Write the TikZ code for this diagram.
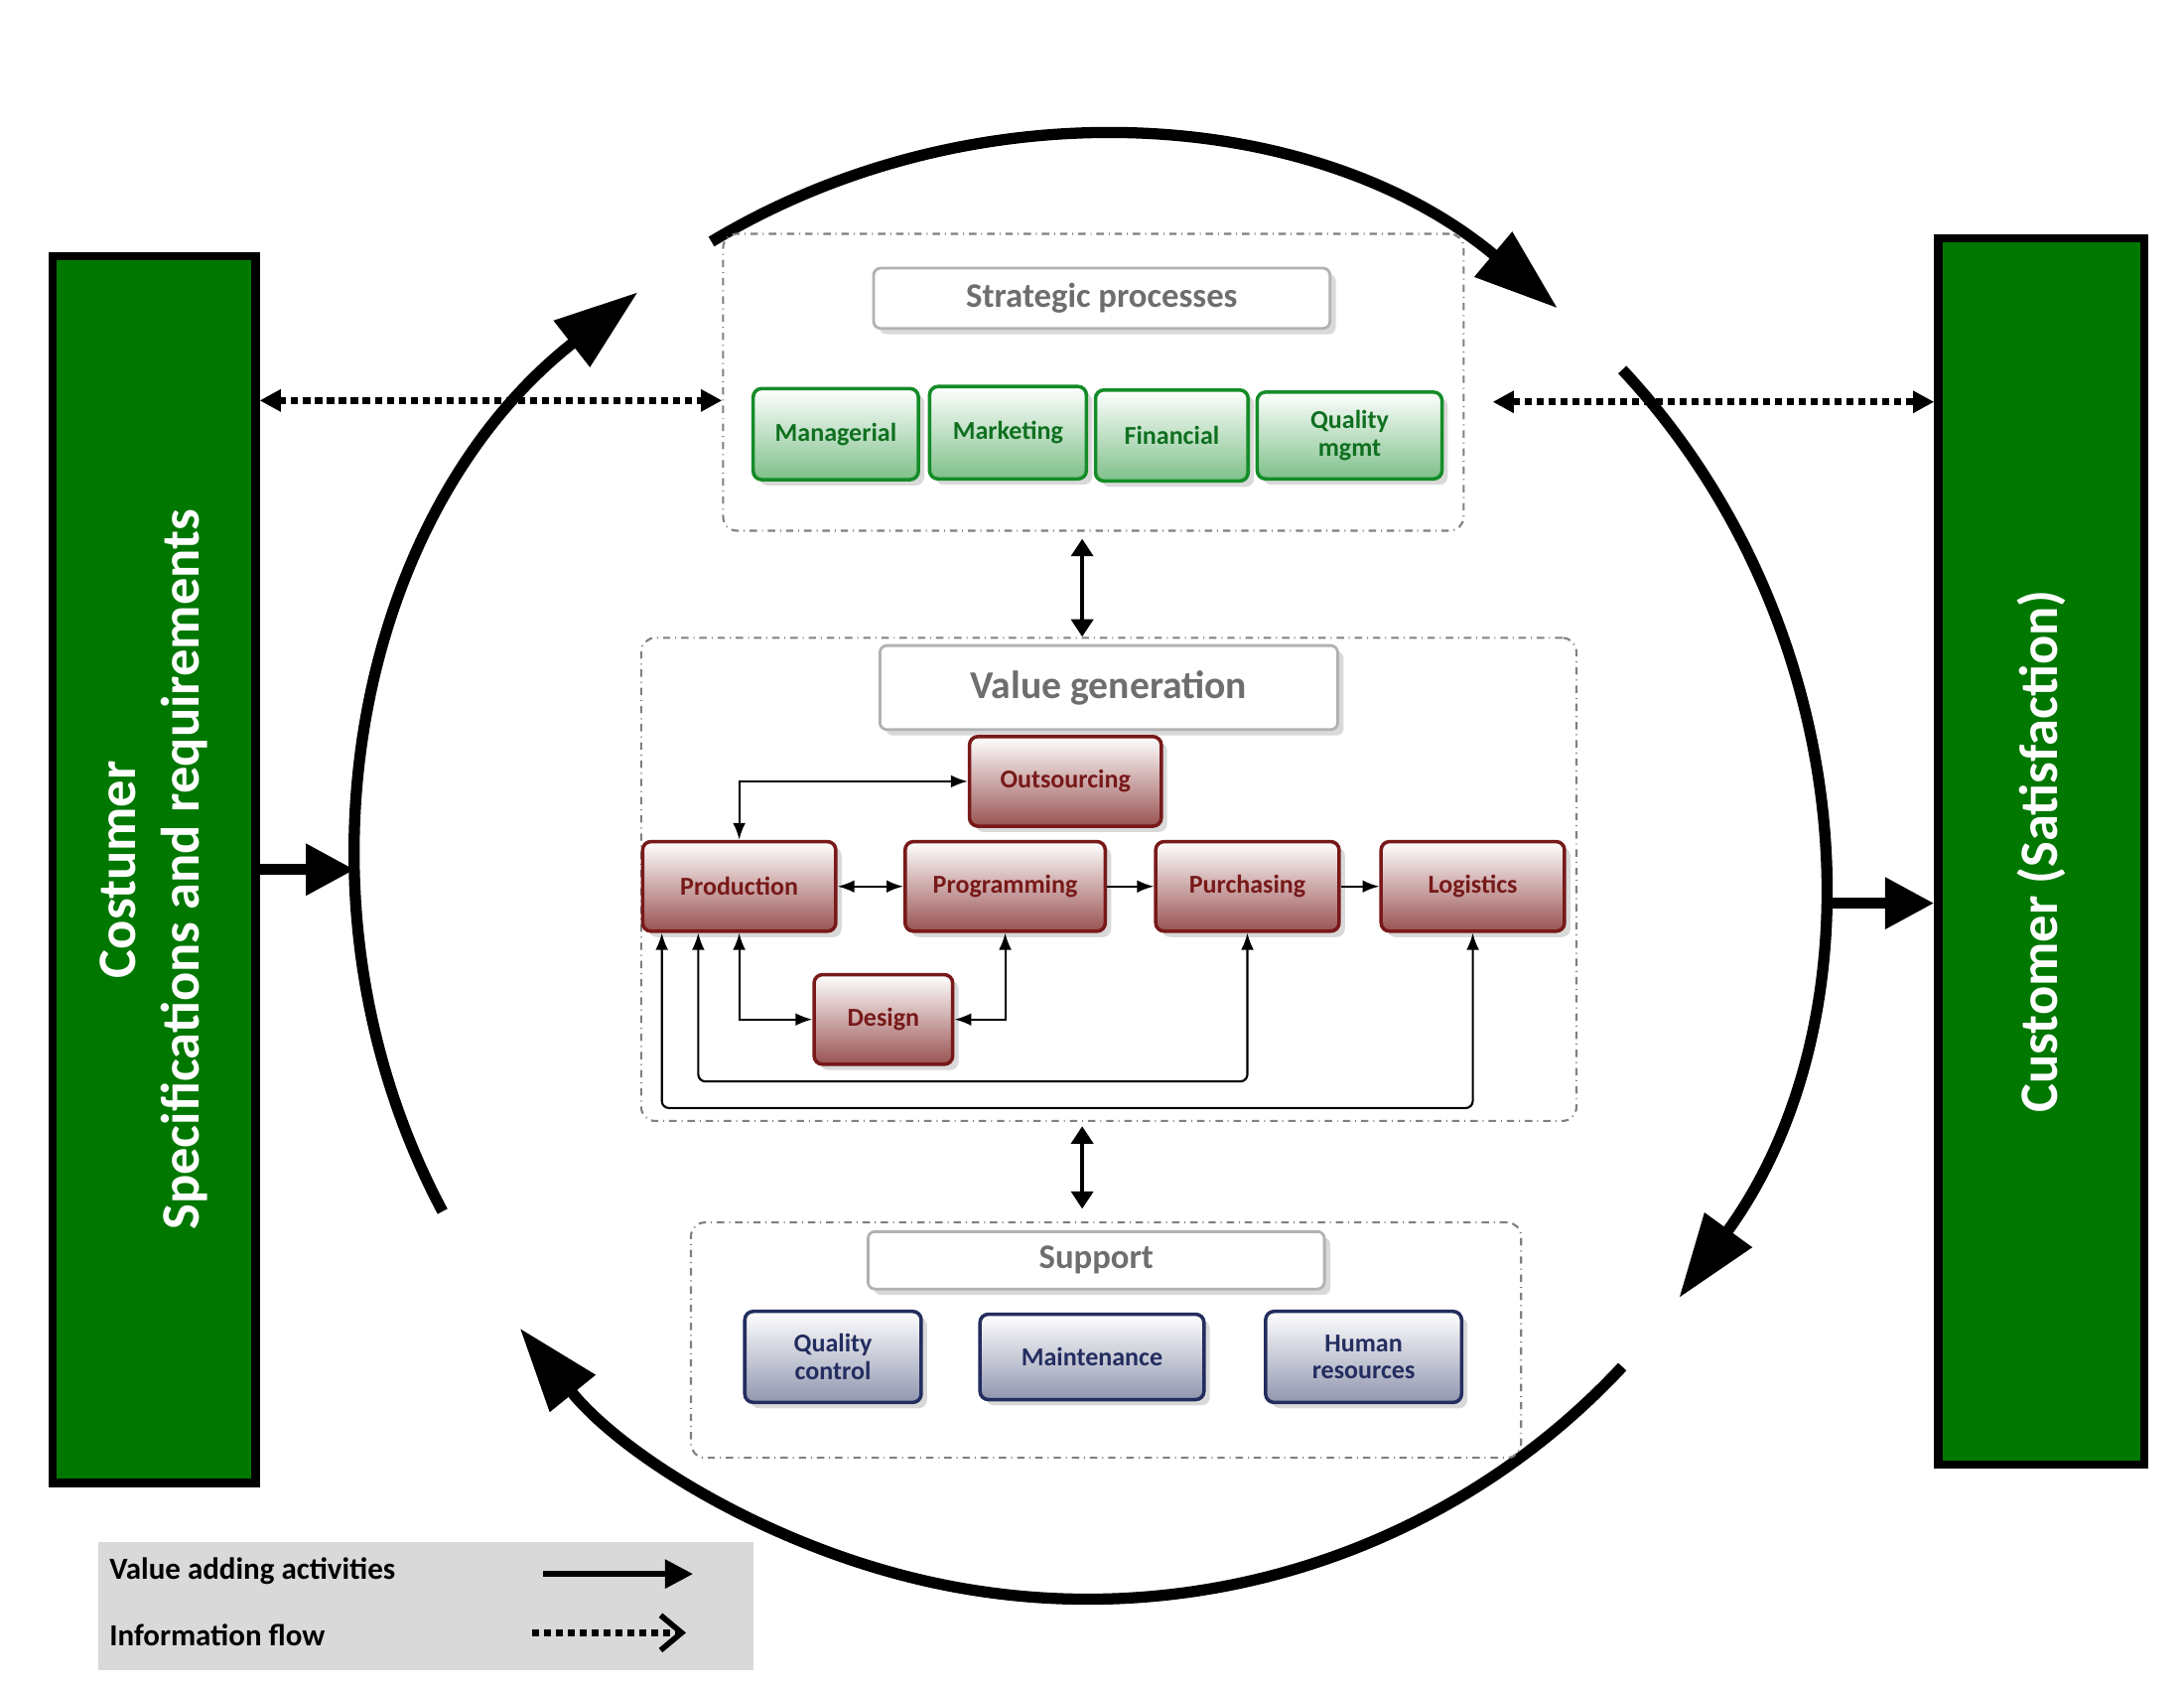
\documentclass[tikz,border=0pt]{standalone}
\usepackage{fontspec}
\setmainfont{Carlito}
\usetikzlibrary{arrows.meta,shadows}
\definecolor{barGreen}{RGB}{0,120,0}
\definecolor{procRed}{RGB}{120,25,25}
\definecolor{procGreen}{RGB}{20,140,40}
\definecolor{procBlue}{RGB}{35,45,95}
\definecolor{titleGrey}{RGB}{110,110,110}
\def\u{0.2mm}
\begin{document}
\begin{tikzpicture}
[x=\u,y=-\u,>=Latex,
bar/.style={draw=black, line width=1.2mm, fill=barGreen, text=white, font=\fontsize{22}{26}\selectfont\bfseries, rotate=90, align=center},
group/.style={draw=gray, dash dot, line width=0.3mm, rounded corners=2mm},
title/.style={draw=gray!60, fill=white, line width=0.4mm, rounded corners=1mm, drop shadow={opacity=0.3}, text=titleGrey, font=\fontsize{14}{16}\selectfont\bfseries},
box/.style={rounded corners=1.2mm, line width=0.5mm, align=center, drop shadow={opacity=0.3}, font=\fontsize{10.5}{11}\selectfont\bfseries, shading angle=45},
red/.style={box, draw=procRed, text=procRed, top color=white, bottom color=procRed!75},
green/.style={box, draw=procGreen, text=procGreen!80!black, top color=white, bottom color=procGreen!55},
blue/.style={box, draw=procBlue, text=procBlue, top color=white, bottom color=procBlue!50},
ring/.style={line width=1.6mm, -{Triangle[length=12mm,width=8mm]}},
info/.style={line width=1mm, dotted, {Triangle[length=3mm,width=3mm]}-{Triangle[length=3mm,width=3mm]}},
link/.style={line width=0.3mm, <->},
thick link/.style={line width=0.6mm, {Triangle[length=2.5mm]}-{Triangle[length=2.5mm]}}]
\useasboundingbox (0,0) rectangle (1560,1206);

% customer bars
\node[bar, minimum width=876*\u, minimum height=145*\u] (spec) at (110,621) {Costumer\\Specifications and requirements};
\node[bar, minimum width=876*\u, minimum height=147*\u] (sat) at (1458,608) {Customer (Satisfaction)};

% value cycle
\draw[ring] (777,620) ++(208:104.4mm) arc[start angle=208, end angle=128, radius=104.4mm];
\draw[ring] (777,620) ++(121:104.4mm) arc[start angle=121, end angle=50, radius=104.4mm];
\draw[ring] (777,620) ++(43:104.4mm) arc[start angle=43, end angle=-36, radius=104.4mm];
\draw[ring] (777,620) ++(-43:104.4mm) arc[start angle=-43, end angle=-141, radius=104.4mm];

% strategic processes
\node[group, minimum width=529*\u, minimum height=212*\u] (strat) at (781,273) {};
\node[title, minimum width=326*\u, minimum height=43*\u] (stratT) at (787,213) {Strategic processes};
\node[green, minimum width=118*\u, minimum height=65*\u] (man) at (597,310) {Managerial};
\node[green, minimum width=112*\u, minimum height=66*\u] (mkt) at (720,309) {Marketing};
\node[green, minimum width=109*\u, minimum height=65*\u] (fin) at (837,311) {Financial};
\node[green, minimum width=132*\u, minimum height=62*\u] (qm) at (964,311) {Quality\\mgmt};

% value generation
\node[group, minimum width=668*\u, minimum height=345*\u] (value) at (792,628) {};
\node[title, minimum width=327*\u, minimum height=60*\u] (valueT) at (792,491) {\fontsize{16}{18}\selectfont Value generation};
\node[red, minimum width=137*\u, minimum height=64*\u] (out) at (761,558) {Outsourcing};
\node[red, minimum width=138*\u, minimum height=64*\u] (prod) at (528,633) {Production};
\node[red, minimum width=143*\u, minimum height=64*\u] (prog) at (718,633) {Programming};
\node[red, minimum width=131*\u, minimum height=64*\u] (pur) at (891,633) {Purchasing};
\node[red, minimum width=131*\u, minimum height=64*\u] (log) at (1052,633) {Logistics};
\node[red, minimum width=99*\u, minimum height=64*\u] (des) at (631,728) {Design};

\draw[link] (prod.north) |- (out.west);
\draw[link] (prod) -- (prog);
\draw[link, -{Latex}] (prog) -- (pur);
\draw[link, -{Latex}] (pur) -- (log);
\draw[link] (prod.south) |- (des.west);
\draw[link] (prog.south) |- (des.east);
\draw[link, rounded corners=1mm] (prod.south west) ++(41,0) coordinate (p1) -- ++(0,106) -| (pur.south);
\draw[link, rounded corners=1mm] (prod.south west) ++(15,0) coordinate (p2) -- ++(0,125) -| (log.south);

% support
\node[group, minimum width=593*\u, minimum height=168*\u] (supp) at (790,957) {};
\node[title, minimum width=326*\u, minimum height=41*\u] (suppT) at (783,900) {Support};
\node[blue, minimum width=126*\u, minimum height=65*\u] (qc) at (595,969) {Quality\\control};
\node[blue, minimum width=160*\u, minimum height=61*\u] (mnt) at (780,969) {Maintenance};
\node[blue, minimum width=140*\u, minimum height=65*\u] (hr) at (974,969) {Human\\resources};

% connections
\draw[thick link] (strat.south) ++(-8,5) coordinate (s1) -- ++(0,70);
\draw[thick link] (value.south) ++(-19,3) coordinate (s2) -- ++(0,59);
\draw[line width=1.6mm, -{Triangle[length=7mm,width=7mm]}] (spec.south) -- ++(68,0);
\draw[line width=1.6mm, -{Triangle[length=7mm,width=7mm]}] (sat.north) ++(-79,37) coordinate (s3) -- (sat.north |- s3);
\draw[info] (spec.south |- man.west) ++(0,-24) coordinate (i1) -- (strat.west |- i1);
\draw[info] (strat.east |- i1) ++(20,1) coordinate (i2) -- (sat.north |- i2);

% legend
\fill[gray!30] (70,1101) rectangle (538,1193);
\node[anchor=west, font=\fontsize{12.5}{14}\selectfont\bfseries] (lv) at (72,1122) {Value adding activities};
\node[anchor=west, font=\fontsize{12.5}{14}\selectfont\bfseries] (li) at (72,1168) {Information flow};
\coordinate (lv1) at (388,1124);
\coordinate (lv2) at (495,1124);
\coordinate (li1) at (380,1166);
\coordinate (li2) at (490,1166);
\draw[line width=0.8mm, -{Triangle[length=4mm,width=4mm]}] (lv1) -- (lv2);
\draw[line width=1mm, dotted, -{Straight Barb[length=3mm,width=5mm,line width=0.8mm]}] (li1) -- (li2);
\end{tikzpicture}
\end{document}
